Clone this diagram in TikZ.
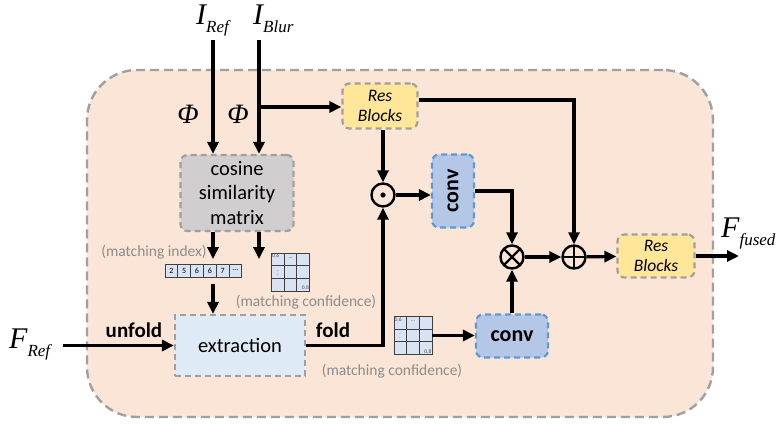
\documentclass[tikz,border=0pt]{standalone}
\usepackage{fontspec}
\setmainfont{Carlito}
\newfontfamily\tnr{Liberation Serif}
\usetikzlibrary{positioning, arrows.meta, calc}

\definecolor{peach}{HTML}{FBE5D6}
\definecolor{dashgray}{HTML}{A0A0A0}
\definecolor{resyellow}{HTML}{FFE699}
\definecolor{cosgray}{HTML}{D0CECE}
\definecolor{extblue}{HTML}{DEEBF7}
\definecolor{convblue}{HTML}{B4C7E7}
\definecolor{convedge}{HTML}{5B9BD5}
\definecolor{cellblue}{HTML}{DAE3F3}
\definecolor{notegray}{HTML}{8C8C8C}

\newcommand{\symsub}[2]{{\fontsize{30}{30}\selectfont\tnr\itshape #1}{\fontsize{17}{17}\selectfont\tnr\itshape\raisebox{-8pt}{#2}}}

\tikzset{
  every node/.style={inner sep=0pt},
  arr/.style={-{Triangle[length=12pt,width=11pt]}, line width=3.2pt},
  outer/.style={draw=dashgray, fill=peach, dash pattern=on 9pt off 5pt, line width=2.4pt, rounded corners=50pt, minimum width=626pt, minimum height=347pt},
  blk/.style={draw=dashgray, dash pattern=on 6pt off 4pt, line width=2.2pt, rounded corners=7pt, align=center},
  resblk/.style={blk, fill=resyellow, minimum width=75pt, minimum height=45pt, font=\fontsize{17.5}{20}\selectfont\itshape},
  cosblk/.style={blk, fill=cosgray, minimum width=113pt, minimum height=76pt, font=\fontsize{20.5}{24.5}\selectfont},
  extblk/.style={blk, rounded corners=0pt, fill=extblue, minimum width=130pt, minimum height=61pt, font=\fontsize{20.5}{24}\selectfont},
  convblk/.style={blk, draw=convedge, fill=convblue, font=\fontsize{22}{24}\selectfont\bfseries},
  op/.style={circle, draw, line width=2.4pt, minimum size=23pt},
  op odot/.style={op, path picture={\fill (path picture bounding box.center) circle (2.6pt);}},
  op otimes/.style={op, path picture={\draw[line width=2.2pt] (path picture bounding box.north west) -- (path picture bounding box.south east) (path picture bounding box.north east) -- (path picture bounding box.south west);}},
  op oplus/.style={op, path picture={\draw[line width=2.2pt] (path picture bounding box.north) -- (path picture bounding box.south) (path picture bounding box.east) -- (path picture bounding box.west);}},
  phi/.style={font=\fontsize{28}{28}\selectfont\tnr\itshape},
  note/.style={text=notegray, font=\fontsize{15.5}{16}\selectfont},
  tag/.style={font=\fontsize{21}{21}\selectfont\bfseries},
  cell/.style={draw=black!75, fill=cellblue, line width=0.9pt, minimum width=12.8pt, minimum height=13pt, font=\fontsize{8}{8}\selectfont},
  tiny/.style={text=black!70, font=\fontsize{5.5}{5.5}\selectfont},
  confmat/.pic={
    \node[draw=black!75, fill=cellblue, line width=0.9pt, minimum size=38pt] (-box) at (0,0) {};
    \foreach \k in {-6.33,6.33} {
      \draw[black!75, line width=0.9pt] (\k,-19) -- (\k,19);
      \draw[black!75, line width=0.9pt] (-19,\k) -- (19,\k);
    }
    \node[tiny, anchor=north west] at (-18.5,-18) {0.6};
    \node[tiny] at (0,-14) {\ldots};
    \node[tiny] at (-13,0) {$\vdots$};
    \node[tiny, anchor=south east] at (18.5,18) {0.8};
  }
}

\begin{document}
\begin{tikzpicture}[x=1pt,y=-1pt]
\useasboundingbox (0,0) rectangle (779,425);
\node[outer] (fuse_box) at (400,243.5) {};

\node[anchor=base west] (i_ref) at (196,25) {\symsub{I}{Ref}};
\node[anchor=base west] (i_blur) at (253,25) {\symsub{I}{Blur}};
\coordinate (ref_in) at (213,40);
\coordinate (blur_in) at (259,40);
\node[phi] (phi_ref) at (188,114) {Φ};
\node[phi] (phi_blur) at (238,114) {Φ};

\node[resblk] (res_1) at (380,106) {Res\\Blocks};
\node[cosblk] (cos_sim) at (237,193) {cosine\\similarity\\matrix};
\node[extblk] (ext) at (240,345.5) {extraction};
\node[op odot] (odot) at (383,195) {};
\node[convblk, minimum width=42pt, minimum height=73pt] (conv_1) at (453,191) {\rotatebox{90}{conv}};
\node[op otimes] (otimes) at (512,257) {};
\node[op oplus] (oplus) at (574,257) {};
\node[resblk, minimum width=77pt, minimum height=43pt] (res_2) at (656,256) {Res\\Blocks};
\coordinate (out) at (739,256);
\node[anchor=base west] (f_fused) at (721,237) {\symsub{F}{fused}};
\node[convblk, minimum width=72pt, minimum height=43pt] (conv_2) at (512,336) {conv};
\node[anchor=base west] (f_ref) at (9,348) {\symsub{F}{Ref}};
\coordinate (ref_feat) at (63,345.5);

\foreach \v [count=\i] in {2,5,6,6,7,\ldots}
  \node[cell] (idx_\i) at (158.6+\i*12.8,270.5) {\v};
\pic (conf_1) at (290.5,272) {confmat};
\pic (conf_2) at (413,335.5) {confmat};
\node[note] (idx_note) at (154,252) {(matching index)};
\node[note] (conf_note_1) at (306,302) {(matching confidence)};
\node[note] (conf_note_2) at (392,371) {(matching confidence)};

\coordinate (blur_turn) at (259,107);
\coordinate (idx_down) at (213,284);
\draw[arr] (ref_in) -- (cos_sim.north -| ref_in);
\draw[arr] (blur_in) -- (cos_sim.north -| blur_in);
\draw[arr] (blur_turn) -- (blur_turn -| res_1.west);
\draw[arr] (cos_sim.south -| ref_in) -- ++(0,27);
\draw[arr] (cos_sim.south -| blur_in) -- ++(0,27);
\draw[arr] (idx_down) -- (ext.north -| idx_down);
\draw[arr] (ref_feat) -- node[tag, above=6pt, pos=0.64] {unfold} (ext.west);
\draw[arr] (ext.east) -| (odot.south);
\node[tag] (fold_tag) at (333,330) {fold};
\draw[arr] (res_1.south -| odot) -- (odot.north);
\draw[arr] (odot.east) -- (odot.east -| conv_1.west);
\draw[arr] (conv_1.east) -| (otimes.north);
\draw[arr] (conf_2-box.east) -- (conf_2-box.east -| conv_2.west);
\draw[arr] (conv_2.north) -- (otimes.south);
\draw[arr] ([yshift=6pt]res_1.east) -| (oplus.north);
\path[arr] (otimes) edge (oplus)
           (oplus) edge (res_2)
           (res_2) edge (out);
\end{tikzpicture}
\end{document}
